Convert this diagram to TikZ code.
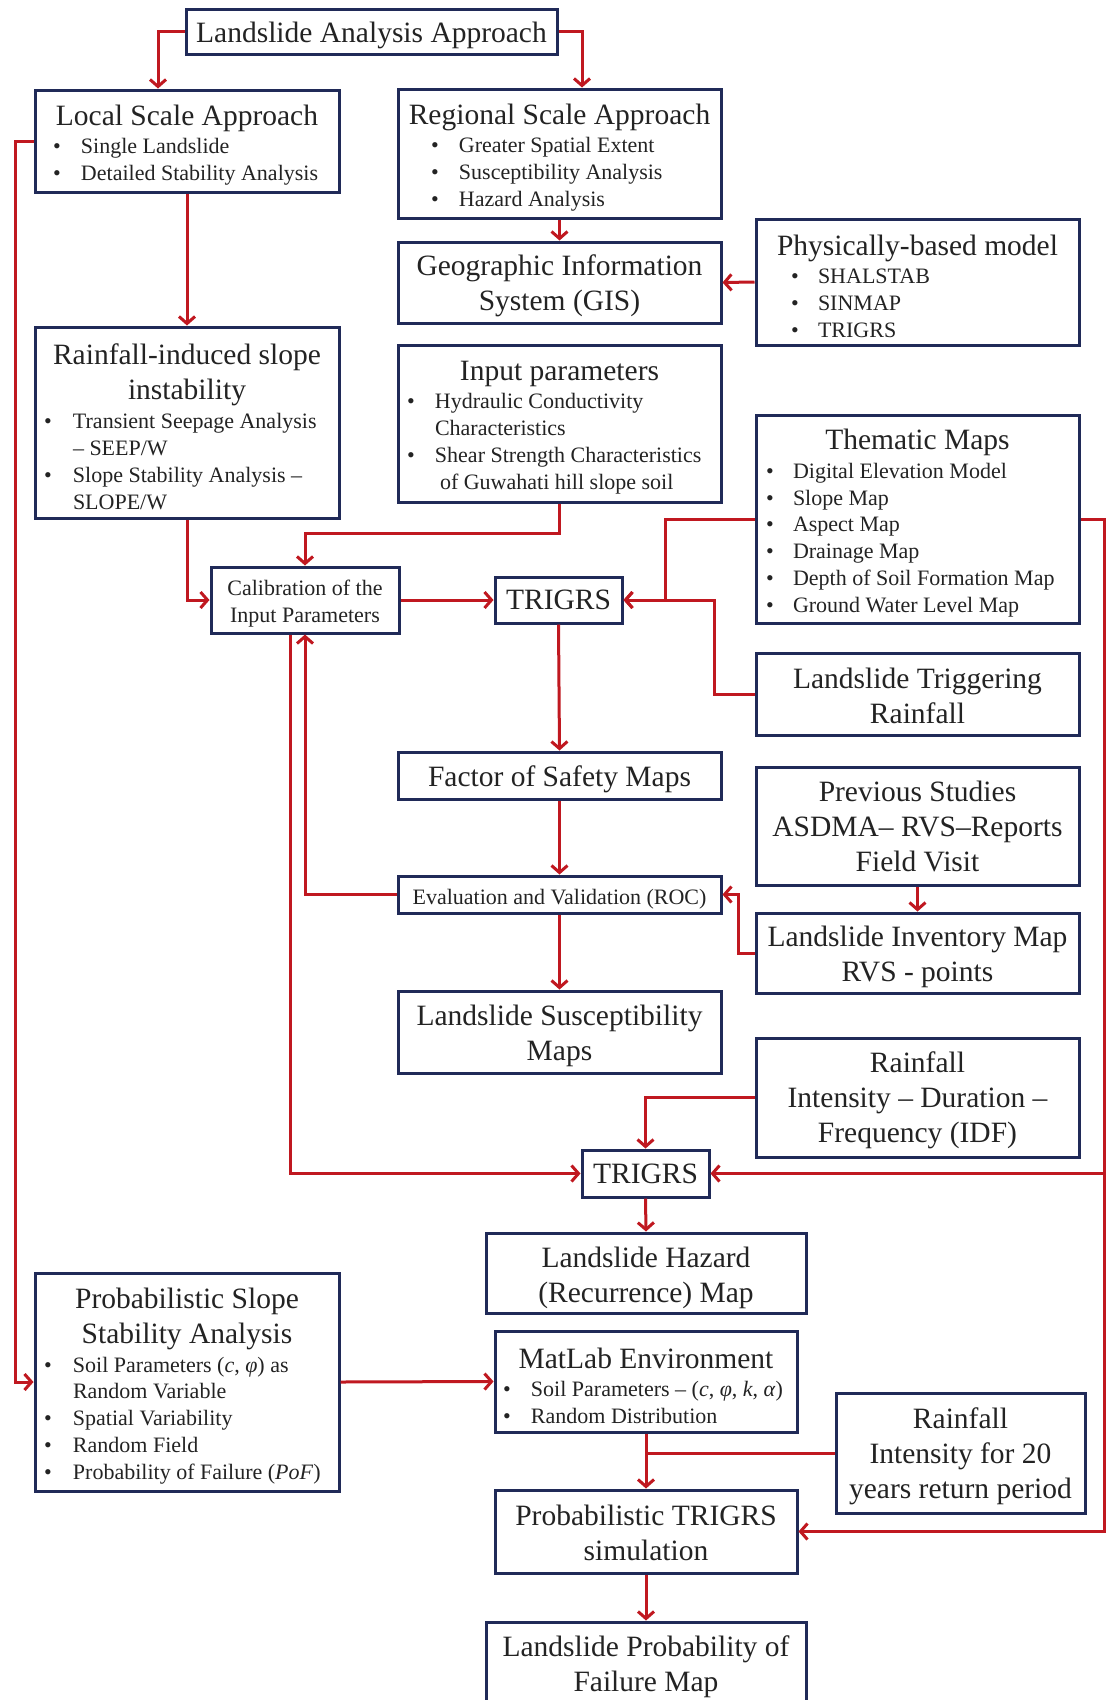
\documentclass[tikz,border=0pt]{standalone}
\usepackage{fontspec}
\setmainfont{Liberation Serif}
\usetikzlibrary{arrows.meta,calc}
\definecolor{boxblue}{RGB}{32,42,88}
\definecolor{arrred}{RGB}{192,24,32}
\definecolor{txt}{RGB}{35,35,35}
\newcommand\bigtxt{\fontsize{29.5}{35}\selectfont}
\newcommand\smltxt{\fontsize{22}{26.9}\selectfont}
\newcommand\bitem[2]{\par\leftskip=#1pt\hangindent=#2pt\hangafter=1\noindent\makebox[#2pt][l]{\textbullet}}
\newcommand\ctitle[1]{{\centering\bigtxt #1\par}\vspace{1.5pt}}
\newcommand\lcontent[2]{\parbox{#1pt}{\raggedright\parindent=0pt\vspace*{8.5pt}#2\par}}
\newcommand\upr[1]{\rule{0pt}{#1pt}}
\begin{document}
\begin{tikzpicture}[x=1pt,y=-1pt,
  box/.style 2 args={draw=boxblue, line width=3pt, fill=white, inner sep=2pt, text=txt,
    align=center, font=\bigtxt, minimum width=#1pt, minimum height=#2pt},
  lbox/.style 2 args={box={#1}{#2}},
  dn/.style={execute at begin node={\rule{0pt}{#1pt}}},
  arr/.style={draw=arrred, line width=3pt, -{Straight Barb[length=7pt,width=16pt,line width=3pt]}},
  ln/.style={draw=arrred, line width=3pt},
]
\clip (0,0) rectangle (1108,1700);
\fill[white] (0,0) rectangle (1108,1700);

% boxes
\node[box={371}{45}, dn=29] (top) at (371.5,31.5) {Landslide Analysis Approach};
\node[lbox={304}{102}] (local) at (187,141)
  {\lcontent{298}{\ctitle{Local Scale Approach}\smltxt\bitem{15}{28}Single Landslide\bitem{15}{28}Detailed Stability Analysis}};
\node[lbox={323}{129}] (regional) at (559.5,153.5)
  {\lcontent{317}{\ctitle{Regional Scale Approach}\smltxt\bitem{30}{28}Greater Spatial Extent\bitem{30}{28}Susceptibility Analysis\bitem{30}{28}Hazard Analysis}};
\node[box={323}{81}] (gis) at (559.5,282.5) {\upr{27}Geographic Information\\System (GIS)};
\node[lbox={323}{126}] (phys) at (917.5,282)
  {\lcontent{317}{\ctitle{Physically-based model}\smltxt\bitem{32}{27}SHALSTAB\bitem{32}{27}SINMAP\bitem{32}{27}TRIGRS}};
\node[lbox={304}{191}] (rain) at (187,422.5)
  {\lcontent{298}{\ctitle{Rainfall-induced slope\\instability}\smltxt\bitem{6}{29}Transient Seepage Analysis\newline – SEEP/W\bitem{6}{29}Slope Stability Analysis –\newline SLOPE/W}};
\node[lbox={323}{157}] (input) at (559.5,423.5)
  {\lcontent{317}{\ctitle{Input parameters}\smltxt\bitem{6}{28}Hydraulic Conductivity\newline Characteristics\bitem{6}{28}Shear Strength Characteristics\newline\hspace*{5pt}of Guwahati hill slope soil}};
\node[lbox={323}{208}] (thematic) at (917.5,519)
  {\lcontent{317}{\ctitle{Thematic Maps}\smltxt\bitem{7}{27}Digital Elevation Model\bitem{7}{27}Slope Map\bitem{7}{27}Aspect Map\bitem{7}{27}Drainage Map\bitem{7}{27}Depth of Soil Formation Map\bitem{7}{27}Ground Water Level Map}};
\node[box={188}{66}, font=\smltxt] (calib) at (305,600) {\upr{23}Calibration of the\\Input Parameters};
\node[box={127}{46}] (trig1) at (558.5,600) {TRIGRS};
\node[box={323}{82}] (trigrain) at (917.5,694) {\upr{25}Landslide Triggering\\Rainfall};
\node[box={323}{47}, dn=29] (fos) at (559.5,775.5) {Factor of Safety Maps};
\node[box={323}{118}] (prev) at (917.5,826) {Previous Studies\\ASDMA– RVS–Reports\\Field Visit};
\node[box={323}{37}, font=\smltxt, dn=24] (eval) at (559.5,894.5) {Evaluation and Validation (ROC)};
\node[box={323}{80}] (inv) at (917.5,953) {\upr{29}Landslide Inventory Map\\RVS - points};
\node[box={323}{82}] (susc) at (559.5,1032) {\upr{29}Landslide Susceptibility\\Maps};
\node[box={323}{119}] (idf) at (917.5,1097.5) {\upr{27}Rainfall\\Intensity – Duration –\\Frequency (IDF)};
\node[box={127}{47}] (trig2) at (645.5,1173.5) {TRIGRS};
\node[box={320}{80}] (hazard) at (646,1273) {\upr{30}Landslide Hazard\\(Recurrence) Map};
\node[lbox={304}{218}] (probslope) at (187,1382)
  {\lcontent{298}{\ctitle{Probabilistic Slope\\Stability Analysis}\smltxt\bitem{6}{29}Soil Parameters (\textit{c}, \textit{φ}) as\newline Random Variable\bitem{6}{29}Spatial Variability\bitem{6}{29}Random Field\bitem{6}{29}Probability of Failure (\textit{PoF})}};
\node[lbox={302}{101}] (matlab) at (646,1381.5)
  {\lcontent{296}{\ctitle{MatLab Environment}\smltxt\bitem{5}{28}\mbox{Soil Parameters – (\textit{c}, \textit{φ}, \textit{k}, \textit{α})}\bitem{5}{28}Random Distribution}};
\node[box={249}{120}] (rain20) at (960.5,1453) {\upr{27}Rainfall\\Intensity for 20\\years return period};
\node[box={302}{83}] (probtrig) at (646,1531.5) {\upr{23}Probabilistic TRIGRS\\simulation};
\node[box={320}{90}] (lpof) at (646,1667) {Landslide Probability of\\Failure Map};

% connectors
\draw[arr] (top.west) -| (local.north -| 158,0);
\draw[arr] (top.east) -| (regional.north -| 582,0);
\draw[arr] (local.west) -- (local.west -| 15,0) |- (probslope.west);
\draw[arr] (local.south) -- (rain.north);
\draw[arr] (regional.south) -- (gis.north);
\draw[arr] (phys.west) -- (gis.east);
\draw[arr] (rain.south) |- (calib.west);
\draw[arr] (input.south) -- (input.south |- 0,533) -| (calib.north);
\draw[arr] (calib.east) -- (trig1.west);
\draw[arr] (thematic.west) -| (trig1.east -| 665,0) -- (trig1.east);
\draw[arr] (trigrain.west) -| (trig1.east -| 714,0) -- (trig1.east);
\draw[arr] (trig1.south) -- (fos.north);
\draw[arr] (fos.south) -- (eval.north);
\draw[arr] (eval.west) -| (calib.south);
\draw[arr] (calib.south -| 290,0) |- (trig2.west);
\draw[arr] (prev.south) -- (inv.north);
\draw[arr] (inv.west) -| (eval.east -| 738,0) -- (eval.east);
\draw[arr] (eval.south) -- (susc.north);
\draw[arr] (idf.west) -| (trig2.north);
\draw[arr] (thematic.east) -| (probtrig.east -| 1104,0) -- (probtrig.east);
\draw[arr] (trig2.east -| 1104,0) -- (trig2.east);
\draw[arr] (trig2.south) -- (hazard.north);
\draw[arr] (probslope.east) -- (matlab.west);
\draw[arr] (matlab.south) -- (probtrig.north);
\draw[ln] (rain20.west) -- (rain20.west -| matlab.south);
\draw[arr] (probtrig.south) -- (lpof.north);
\end{tikzpicture}
\end{document}
